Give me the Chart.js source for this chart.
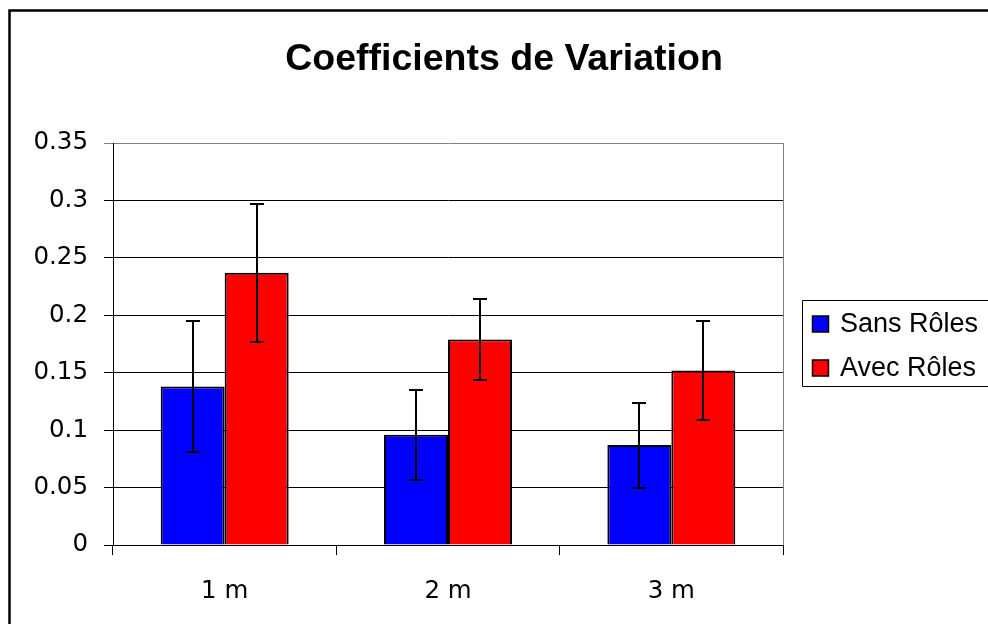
<!DOCTYPE html>
<html>
<head>
<meta charset="utf-8">
<script src="https://cdn.jsdelivr.net/npm/chart.js@4"></script>
<style>
html,body{margin:0;padding:0;background:#fff;}
#wrap{width:988px;height:624px;position:relative;}
</style>
</head>
<body>
<div id="wrap"><canvas id="c" width="988" height="624"></canvas></div>
<script>
const categories = ['1 m', '2 m', '3 m'];
const seriesNames = ['Sans Rôles', 'Avec Rôles'];
const sansRoles = [0.138, 0.096, 0.087];
const sansRolesErr = [0.057, 0.039, 0.037];
const avecRoles = [0.237, 0.179, 0.152];
const avecRolesErr = [0.060, 0.035, 0.043];
const yTicks = [0, 0.05, 0.1, 0.15, 0.2, 0.25, 0.3, 0.35];
const titleText = 'Coefficients de Variation';

const errors = [sansRolesErr, avecRolesErr];

const framePlugin = {
  id: 'frame',
  beforeDraw(chart) {
    const ctx = chart.ctx;
    ctx.save();
    ctx.fillStyle = '#fff';
    ctx.fillRect(0, 0, chart.width, chart.height);
    ctx.strokeStyle = '#000';
    ctx.lineWidth = 2.5;
    ctx.beginPath();
    ctx.moveTo(9.5, chart.height + 2);
    ctx.lineTo(9.5, 10.5);
    ctx.lineTo(chart.width + 2, 10.5);
    ctx.stroke();
    ctx.fillStyle = '#000';
    ctx.font = 'bold 37.5px "Liberation Sans", Arial, sans-serif';
    ctx.textAlign = 'center';
    ctx.textBaseline = 'alphabetic';
    ctx.fillText(titleText, 504, 70);
    ctx.restore();
  },
  afterDraw(chart) {
    const ctx = chart.ctx;
    const a = chart.chartArea;
    ctx.save();
    ctx.strokeStyle = '#808080';
    ctx.lineWidth = 1;
    ctx.beginPath();
    ctx.moveTo(Math.round(a.right) + 0.5, a.top);
    ctx.lineTo(Math.round(a.right) + 0.5, a.bottom);
    ctx.stroke();
    const lx = 802.5, ly = 300.5, lw = 200, lh = 86;
    ctx.strokeStyle = '#000';
    ctx.beginPath();
    ctx.rect(lx, ly, lw, lh);
    ctx.stroke();
    ctx.font = '27px "Liberation Sans", Arial, sans-serif';
    ctx.textAlign = 'left';
    ctx.textBaseline = 'middle';
    chart.data.datasets.forEach((ds, i) => {
      const cy = 324 + i * 44;
      ctx.fillStyle = ds.backgroundColor;
      ctx.fillRect(812.5, cy - 8, 16, 16);
      ctx.strokeStyle = '#000';
      ctx.lineWidth = 1.5;
      ctx.strokeRect(812.5, cy - 8, 16, 16);
      ctx.fillStyle = '#000';
      ctx.fillText(ds.label, 840, cy + 1);
    });
    ctx.restore();
  },
  afterDatasetsDraw(chart) {
    const ctx = chart.ctx;
    const yScale = chart.scales.y;
    ctx.save();
    ctx.strokeStyle = '#000';
    ctx.lineWidth = 2;
    chart.data.datasets.forEach((ds, di) => {
      const meta = chart.getDatasetMeta(di);
      meta.data.forEach((bar, i) => {
        const v = ds.data[i], e = errors[di][i];
        const x = Math.round(bar.x);
        const yt = Math.round(yScale.getPixelForValue(v + e));
        const yb = Math.round(yScale.getPixelForValue(v - e));
        ctx.beginPath();
        ctx.moveTo(x, yt); ctx.lineTo(x, yb);
        ctx.moveTo(x - 7, yt); ctx.lineTo(x + 7, yt);
        ctx.moveTo(x - 7, yb); ctx.lineTo(x + 7, yb);
        ctx.stroke();
      });
    });
    ctx.restore();
  }
};

new Chart(document.getElementById('c'), {
  type: 'bar',
  data: {
    labels: categories,
    datasets: [
      { label: seriesNames[0], data: sansRoles, backgroundColor: '#0000ff', borderColor: '#000', borderWidth: 2 },
      { label: seriesNames[1], data: avecRoles, backgroundColor: '#ff0000', borderColor: '#000', borderWidth: 2 }
    ]
  },
  options: {
    responsive: false,
    animation: false,
    devicePixelRatio: 1,
    layout: { padding: { top: 143, right: 205, left: 0, bottom: 0 } },
    datasets: { bar: { barPercentage: 1, categoryPercentage: 0.573 } },
    plugins: {
      legend: { display: false },
      title: { display: false },
      tooltip: { enabled: false }
    },
    scales: {
      x: {
        afterFit(s) { s.height = 79; },
        grid: { offset: true, drawOnChartArea: false, drawTicks: true, tickLength: 10, color: '#000' },
        border: { display: true, color: '#000', width: 1 },
        ticks: { color: '#000', padding: 22, font: { family: 'DejaVu Sans', size: 24.5 } }
      },
      y: {
        min: 0,
        max: 0.35,
        afterFit(s) { s.width = 113; },
        afterBuildTicks(s) { s.ticks = yTicks.map(v => ({ value: v })); },
        grid: {
          drawTicks: true,
          tickLength: 9,
          lineWidth: 1,
          color: (c) => (c.tick && Math.abs(c.tick.value - 0.35) < 1e-9) ? '#808080' : '#000'
        },
        border: { display: true, color: '#000', width: 1 },
        ticks: {
          color: '#000',
          padding: 16,
          font: { family: 'DejaVu Sans', size: 24.5 },
          callback: (v) => String(+Number(v).toFixed(2))
        }
      }
    }
  },
  plugins: [framePlugin]
});
</script>
</body>
</html>
